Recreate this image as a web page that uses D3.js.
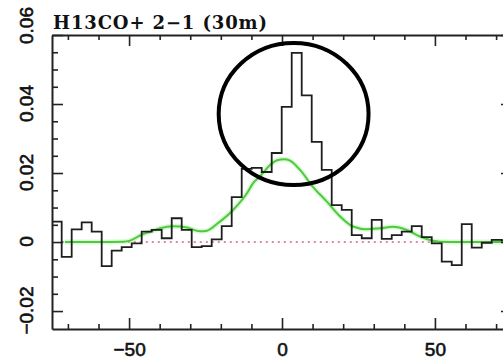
<!DOCTYPE html>
<html>
<head>
<meta charset="utf-8">
<script src="https://cdn.jsdelivr.net/npm/d3@7"></script>
<style>
  html, body { margin: 0; padding: 0; background: #fff; }
  svg { display: block; }
</style>
</head>
<body>
<svg id="chart" width="503" height="363"></svg>
<script>
// Observed spectrum: channel centre velocities (km/s) and line intensities (K)
const velocity = [
  -73.67, -70.40, -67.13, -63.86, -60.59, -57.32, -54.05, -50.78, -47.51, -44.24,
  -40.97, -37.70, -34.43, -31.16, -27.89, -24.62, -21.35, -18.08, -14.81, -11.54,
  -8.27, -5.00, -1.73, 1.54, 4.81, 8.08, 11.35, 14.62, 17.89, 21.16,
  24.43, 27.70, 30.97, 34.24, 37.51, 40.78, 44.05, 47.32, 50.59, 53.86,
  57.13, 60.40, 63.67, 66.94, 70.21, 73.48
];
const intensity = [
  0.0059, -0.0043, 0.0037, 0.0057, 0.0030, -0.0070, -0.0025, -0.0015, -0.0004, 0.0030,
  0.0035, 0.0011, 0.0069, 0.0035, -0.0015, -0.0012, 0.0008, 0.0046, 0.0130, 0.0212,
  0.0215, 0.0203, 0.0258, 0.0392, 0.0548, 0.0425, 0.0290, 0.0209, 0.0107, 0.0093,
  0.0020, 0.0011, 0.0064, 0.0009, 0.0020, 0.0030, 0.0046, 0.0014, -0.0004, -0.0057,
  -0.0067, 0.0052, -0.0016, -0.0002, 0.0006, 0.0005
];
const channelWidth = 3.27;

// Smoothed comparison profile
const modelVelocity = [
  -71, -60, -52, -49.7, -46.4, -43.1, -39.9, -35.6, -31, -26.8,
  -24.5, -21.2, -16, -11.4, -9.5, -7.2, -4.9, -3.3, -1.6, 0.7,
  2.6, 5.9, 10.1, 14.7, 19, 23.2, 27.8, 32, 36.3, 40.8,
  45.1, 49.3, 53.9, 73
];
const modelIntensity = [
  0, 0, 0.0001, 0.0004, 0.0019, 0.0030, 0.0040, 0.0046, 0.0042, 0.0031,
  0.0033, 0.0053, 0.0093, 0.0142, 0.0170, 0.0190, 0.0214, 0.0228, 0.0237, 0.0240,
  0.0236, 0.0209, 0.0160, 0.0117, 0.0074, 0.0045, 0.0037, 0.0040, 0.0044, 0.0035,
  0.0016, 0.0004, 0, 0
];

// Axis ticks and labels
const xMajorTicks = [-50, 0, 50];
const xMajorLabels = ["\u221250", "0", "50"];
const xMinorTicks = [-70, -60, -40, -30, -20, -10, 10, 20, 30, 40, 60, 70];
const yMajorTicks = [-0.02, 0, 0.02, 0.04, 0.06];
const yMajorLabels = ["\u22120.02", "0", "0.02", "0.04", "0.06"];
const yMinorTicks = [-0.015, -0.01, -0.005, 0.005, 0.01, 0.015, 0.025, 0.03, 0.035, 0.045, 0.05, 0.055];
const titleText = "H13CO+ 2\u22121 (30m)";

const svg = d3.select("#chart");
svg.append("rect").attr("width", 503).attr("height", 363).attr("fill", "#fff");

const x = d3.scaleLinear().domain([-75.2, 75.2]).range([52, 512]);
const y = d3.scaleLinear().domain([-0.0252, 0.06]).range([329, 35]);
const [x0, x1] = x.range();
const [yb, yt] = y.range();

svg.append("clipPath").attr("id", "plotArea")
  .append("rect").attr("x", x0).attr("y", yt).attr("width", x1 - x0).attr("height", yb - yt);

const plot = svg.append("g").attr("clip-path", "url(#plotArea)");

// Zero baseline (dotted)
plot.append("line")
  .attr("x1", x(-72)).attr("x2", x(72))
  .attr("y1", y(0)).attr("y2", y(0))
  .attr("stroke", "#d0648c").attr("stroke-width", 1.6)
  .attr("stroke-dasharray", "2,4");

// Smoothed profile with a faint glow
const modelLine = d3.line()
  .x((d, i) => x(modelVelocity[i]))
  .y(d => y(d))
  .curve(d3.curveMonotoneX);
plot.append("path").datum(modelIntensity)
  .attr("d", modelLine).attr("fill", "none")
  .attr("stroke", "#9ee88f").attr("stroke-width", 5).attr("stroke-opacity", 0.35);
plot.append("path").datum(modelIntensity)
  .attr("d", modelLine).attr("fill", "none")
  .attr("stroke", "#4ccc3c").attr("stroke-width", 2);

// Observed spectrum as a histogram
const stepPts = velocity.flatMap((v, i) => [
  [v - channelWidth / 2, intensity[i]],
  [v + channelWidth / 2, intensity[i]]
]);
plot.append("path").datum(stepPts)
  .attr("d", d3.line().x(d => x(d[0])).y(d => y(d[1])))
  .attr("fill", "none").attr("stroke", "#1e1e1e").attr("stroke-width", 1.8)
  .attr("stroke-linejoin", "miter");

// Frame axes with inward ticks
const axisColor = "#222";
function styleAxis(g) {
  g.select(".domain").attr("stroke", axisColor).attr("stroke-width", 2);
  g.selectAll(".tick line").attr("stroke", axisColor).attr("stroke-width", 1.6);
}
const fontSans = "'Liberation Sans', Arial, Helvetica, sans-serif";

// bottom
const gb = svg.append("g").attr("transform", `translate(0,${yb})`);
gb.call(d3.axisBottom(x).tickValues(xMinorTicks).tickSizeInner(-5).tickSizeOuter(0).tickFormat(""));
styleAxis(gb);
const gbM = svg.append("g").attr("transform", `translate(0,${yb})`);
gbM.call(d3.axisBottom(x).tickValues(xMajorTicks).tickSizeInner(-11).tickSizeOuter(0)
  .tickFormat((d, i) => xMajorLabels[i]));
gbM.select(".domain").remove();
styleAxis(gbM);
gbM.selectAll(".tick text")
  .attr("y", 27).attr("dy", 0)
  .attr("font-family", fontSans).attr("font-size", 19)
  .attr("fill", "#111").attr("stroke", "#111").attr("stroke-width", 0.6);

// top
const gt = svg.append("g").attr("transform", `translate(0,${yt})`);
gt.call(d3.axisTop(x).tickValues(xMinorTicks).tickSizeInner(-5).tickSizeOuter(0).tickFormat(""));
styleAxis(gt);
const gtM = svg.append("g").attr("transform", `translate(0,${yt})`);
gtM.call(d3.axisTop(x).tickValues(xMajorTicks).tickSizeInner(-11).tickSizeOuter(0).tickFormat(""));
gtM.select(".domain").remove();
styleAxis(gtM);

// left
const gl = svg.append("g").attr("transform", `translate(${x0},0)`);
gl.call(d3.axisLeft(y).tickValues(yMinorTicks).tickSizeInner(-6).tickSizeOuter(0).tickFormat(""));
styleAxis(gl);
const glM = svg.append("g").attr("transform", `translate(${x0},0)`);
glM.call(d3.axisLeft(y).tickValues(yMajorTicks).tickSizeInner(-11).tickSizeOuter(0)
  .tickFormat((d, i) => yMajorLabels[i]));
glM.select(".domain").remove();
styleAxis(glM);
glM.selectAll(".tick text")
  .attr("x", 0).attr("y", 0).attr("dy", 0)
  .attr("text-anchor", "middle")
  .attr("transform", d => `translate(-19,${d === 0.06 ? -10 : -1}) rotate(-90)`)
  .attr("font-family", fontSans).attr("font-size", 19)
  .attr("fill", "#111").attr("stroke", "#111").attr("stroke-width", 0.6);

// right
const gr = svg.append("g").attr("transform", `translate(${x1},0)`);
gr.call(d3.axisRight(y).tickValues(yMinorTicks).tickSizeInner(-6).tickSizeOuter(0).tickFormat(""));
styleAxis(gr);
const grM = svg.append("g").attr("transform", `translate(${x1},0)`);
grM.call(d3.axisRight(y).tickValues(yMajorTicks).tickSizeInner(-11).tickSizeOuter(0).tickFormat(""));
grM.select(".domain").remove();
styleAxis(grM);

// Title above the frame
svg.append("text")
  .attr("x", 53).attr("y", 29)
  .attr("font-family", "'DejaVu Serif', 'Liberation Serif', serif")
  .attr("font-size", 18).attr("font-weight", "bold")
  .attr("textLength", 214).attr("lengthAdjust", "spacing")
  .attr("fill", "#111")
  .text(titleText);

// Ring marking the line peak
const ringV = 3.8, ringT = 0.0371, ringDV = 24.5, ringDT = 0.0206;
svg.append("ellipse")
  .attr("cx", x(ringV)).attr("cy", y(ringT))
  .attr("rx", x(ringV + ringDV) - x(ringV))
  .attr("ry", y(ringT - ringDT) - y(ringT))
  .attr("fill", "none").attr("stroke", "#000").attr("stroke-width", 4);
</script>
</body>
</html>
